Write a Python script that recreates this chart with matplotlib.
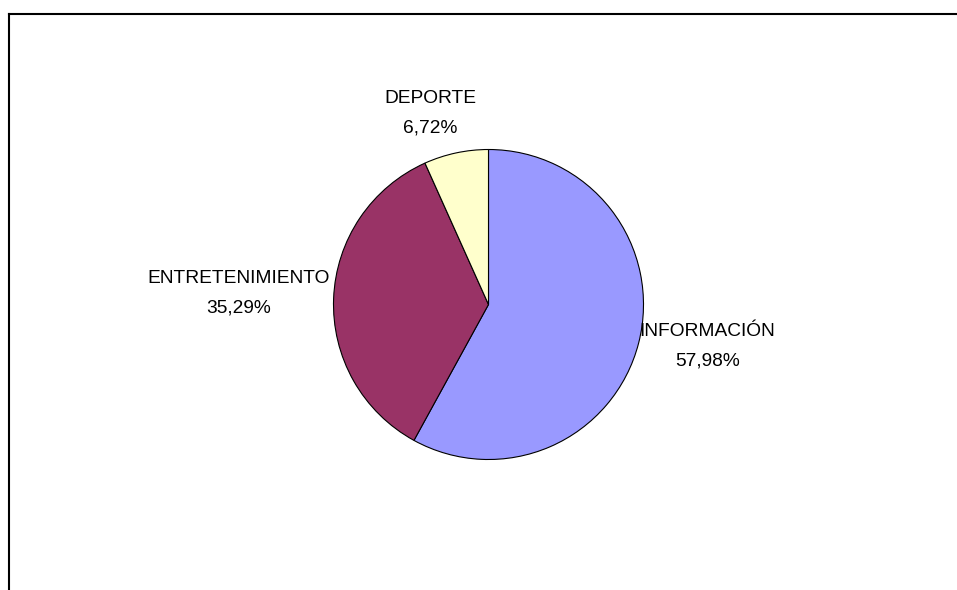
import matplotlib
matplotlib.use('Agg')
import matplotlib.pyplot as plt
from matplotlib.lines import Line2D

# Data
categories = ['INFORMACIÓN', 'ENTRETENIMIENTO', 'DEPORTE']
values = [57.98, 35.29, 6.72]
colors = ['#9999FF', '#993366', '#FFFFCC']
# label centres in pie-radius units (layout only)
label_pos = [(1.413, -0.268), (-1.613, 0.074), (-0.374, 1.235)]

plt.rcParams['font.family'] = ['Liberation Sans', 'DejaVu Sans']

W, H = 957, 590
cx, cy, R = 488.5, 304.5, 155

fig = plt.figure(figsize=(W / 100, H / 100), dpi=100)
ax = fig.add_axes([0, 0, 1, 1])
ax.pie(values, colors=colors, startangle=90, counterclock=False, radius=1,
       wedgeprops={'edgecolor': 'black', 'linewidth': 0.8})
ax.set_xlim(-cx / R, (W - cx) / R)
ax.set_ylim((cy - H) / R, cy / R)
ax.set_aspect('auto')
ax.axis('off')

for name, v, (lx, ly) in zip(categories, values, label_pos):
    pct = f'{v:.2f}%'.replace('.', ',')
    ax.text(lx, ly, f'{name}\n{pct}', ha='center', va='center',
            fontsize=13.8, linespacing=1.95, color='black')

# chart border (cropped on right and bottom)
fig.add_artist(Line2D([8.5 / W, 1.0], [1 - 13.5 / H, 1 - 13.5 / H],
                      transform=fig.transFigure, color='black', lw=1.5))
fig.add_artist(Line2D([8.5 / W, 8.5 / W], [0, 1 - 13.5 / H],
                      transform=fig.transFigure, color='black', lw=1.5))

fig.savefig('out.png', dpi=100)
